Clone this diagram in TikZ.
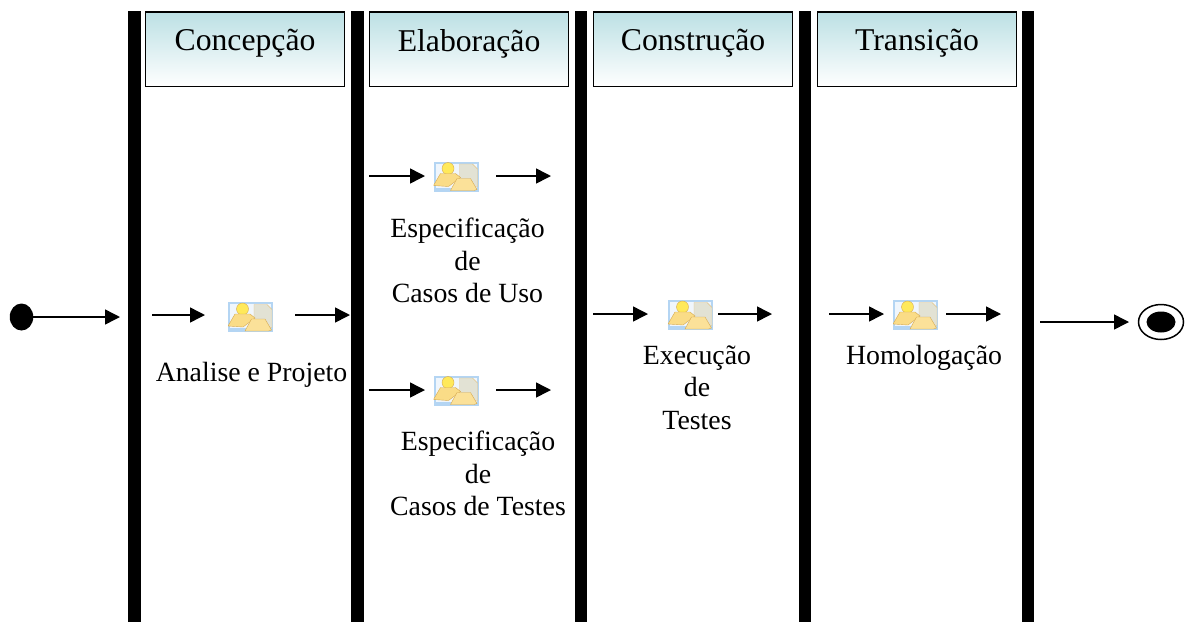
\documentclass[tikz,border=0pt]{standalone}
\usepackage{fontspec}
\setmainfont{Liberation Serif}
\usetikzlibrary{positioning,calc,shapes.geometric}
\usetikzlibrary{arrows.meta}

\begin{document}
\begin{tikzpicture}[x=1pt,y=-1pt,
         phasebar/.style = {fill=black,inner sep=0pt,minimum width=12.5pt,minimum height=611pt,anchor=north},
         phasehead/.style = {draw=black,line width=1.5pt,top color=headteal,bottom color=white,
            inner sep=0pt,minimum width=199pt,minimum height=74.5pt,anchor=north west,
            font=\fontsize{31.7}{36}\selectfont,text depth=18.5pt},
         flow/.style = {line width=1.5pt,-{Triangle[length=15pt,width=15pt]}},
         tasklabel/.style = {font=\fontsize{27.8}{32.7}\selectfont,align=center,inner sep=0pt},
         taskicon/.style = {inner sep=0pt,minimum width=45pt,minimum height=30pt,fill=iconblue!60!white,
            path picture={
               \coordinate (ic) at (path picture bounding box.center);
               \fill[iconpale] ($(ic)+(-20.5,-13)$) rectangle ($(ic)+(20.5,11)$);
               \fill[docgrey,draw=iconedge!70!white] ($(ic)+(3.5,-12.5)$) -- ++(13,0) -- ++(5,5) -- ++(0,18) -- ++(-18,0) -- cycle;
               \fill[iconyellow,draw=iconedge] ($(ic)+(-8,-8)$) circle (6);
               \fill[icongold,draw=iconedge] ($(ic)+(-22.5,9)$) -- ++(7,-12) -- ++(15,0) -- ++(5,4) -- ++(-12,9) -- cycle;
               \fill[icongold!85!white,draw=iconedge] ($(ic)+(-5.5,14)$) -- ++(6.5,-12) -- ++(13.5,0) -- ++(6.5,11) -- ++(-3,1) -- cycle;
            }}
]
      \definecolor{headteal}{RGB}{188,224,228}
      \definecolor{iconblue}{RGB}{130,185,235}
      \definecolor{iconpale}{RGB}{240,246,252}
      \definecolor{iconyellow}{RGB}{255,233,90}
      \definecolor{icongold}{RGB}{250,220,135}
      \definecolor{iconedge}{RGB}{215,170,80}
      \definecolor{docgrey}{RGB}{226,226,212}
      \useasboundingbox (0,0) rectangle (1185,622);

      % vertical bars
      \node[phasebar] (b0) at (134.5,11) {};
      \node[phasebar] (b1) at (357.5,11) {};
      \node[phasebar] (b2) at (581,11) {};
      \node[phasebar] (b3) at (805,11) {};
      \node[phasebar] (b4) at (1028,11) {};

      % phase titles
      \node[phasehead] (h1) at (144.8,11.4) {Concepção};
      \node[phasehead] (h2) at (368.8,11.4) {Elaboração};
      \node[phasehead] (h3) at (592.8,11.4) {Construção};
      \node[phasehead] (h4) at (816.8,11.4) {Transição};

      % start and end
      \node[fill=black,ellipse,minimum width=23.5pt,minimum height=27pt,inner sep=0pt] (start) at (21.5,317) {};
      \coordinate (starttip) at (120,317);
      \node[draw=black,line width=1.5pt,ellipse,inner sep=0pt,minimum width=45pt,minimum height=35pt] (finish) at (1161,322) {};
      \node[fill=black,ellipse,inner sep=0pt,minimum width=29pt,minimum height=21pt] (finishin) at (1161,322) {};
      \coordinate (finishtail) at (1040,322);
      \coordinate (finishtip) at (1129,322);

      % activities
      \node[taskicon] (a1) at (250.5,317) {};
      \node[taskicon] (a2) at (456,176.5) {};
      \node[taskicon] (a3) at (456,390.5) {};
      \node[taskicon] (a4) at (690.5,315) {};
      \node[taskicon] (a5) at (915.5,315) {};

      \node[tasklabel,below=30pt of a1,xshift=1pt] (t1) {Analise e Projeto};
      \node[tasklabel,below=26pt of a2,xshift=11.5pt] (t2) {Especificação\\de\\Casos de Uso};
      \node[tasklabel,below=25pt of a3,xshift=22pt] (t3) {Especificação\\de\\Casos de Testes};
      \node[tasklabel,below=15pt of a4,xshift=6.5pt] (t4) {Execução\\de\\Testes};
      \node[tasklabel,below=15pt of a5,xshift=8.5pt] (t5) {Homologação};

      % connector ends
      \coordinate (a1w) at (152,315);  \coordinate (a1x) at (205,315);
      \coordinate (a1y) at (295,315);  \coordinate (a1z) at (350,315);
      \coordinate (a2w) at (369,176);  \coordinate (a2x) at (425,176);
      \coordinate (a2y) at (496,176);  \coordinate (a2z) at (551,176);
      \coordinate (a3w) at (369,390);  \coordinate (a3x) at (425,390);
      \coordinate (a3y) at (496,390);  \coordinate (a3z) at (551,390);
      \coordinate (a4w) at (593,314);  \coordinate (a4x) at (648,314);
      \coordinate (a4y) at (718,314);  \coordinate (a4z) at (772,314);
      \coordinate (a5w) at (829,314);  \coordinate (a5x) at (884,314);
      \coordinate (a5y) at (946,314);  \coordinate (a5z) at (1001,314);

      \draw[flow] (start) -- (starttip);
      \foreach \n in {1,...,5} {
         \draw[flow] (a\n w) -- (a\n x);
         \draw[flow] (a\n y) -- (a\n z);
      }
      \draw[flow] (finishtail) -- (finishtip);
\end{tikzpicture}
\end{document}
